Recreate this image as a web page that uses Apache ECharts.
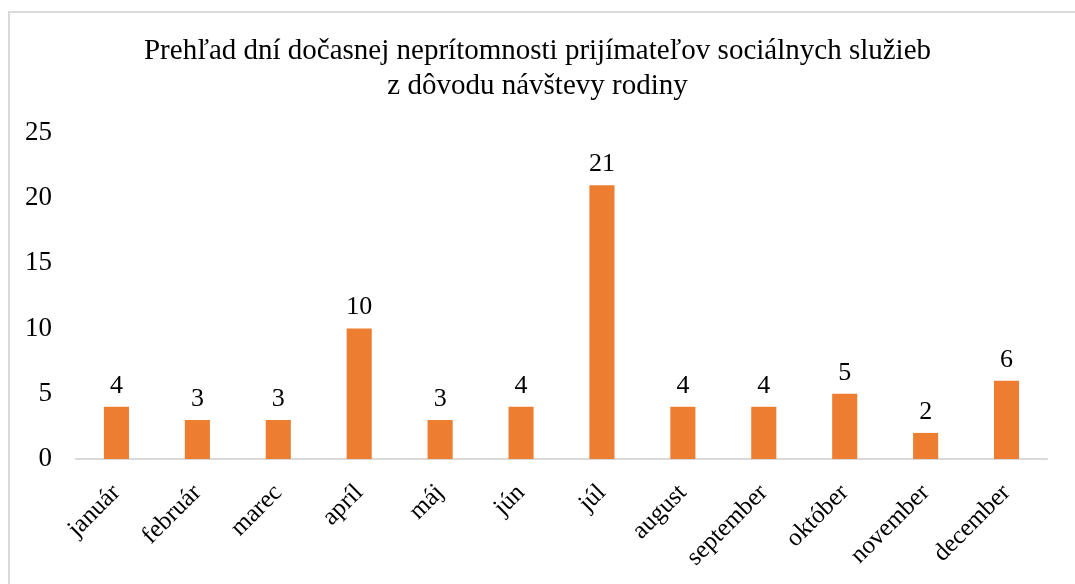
<!DOCTYPE html>
<html>
<head>
<meta charset="utf-8">
<script src="https://cdn.jsdelivr.net/npm/echarts@6/dist/echarts.min.js"></script>
<style>
  html, body { margin: 0; padding: 0; overflow: hidden; background: #fff; }
  #frame { position: absolute; left: 8px; top: 11px; width: 2000px; height: 2000px; border: 2px solid #d9d9d9; }
  #chart { position: absolute; left: 0; top: 0; width: 1075px; height: 584px; }
</style>
</head>
<body>
<div id="frame"></div>
<div id="chart"></div>
<script>
// mesiace
const months = ['január', 'február', 'marec', 'apríl', 'máj', 'jún', 'júl', 'august', 'september', 'október', 'november', 'december']
// počet dní
const days = [4, 3, 3, 10, 3, 4, 21, 4, 4, 5, 2, 6]
const yTicks = [0, 25, 5] // min, max, interval

const font = '"Liberation Serif", "Times New Roman", serif'

const chart = echarts.init(document.getElementById('chart'))
chart.setOption({
  animation: false,
  title: {
    text: 'Prehľad dní dočasnej neprítomnosti prijímateľov sociálnych služieb\nz dôvodu návštevy rodiny',
    left: 'center',
    top: 29,
    textStyle: {
      fontFamily: font,
      fontSize: 29,
      fontWeight: 'normal',
      color: '#000',
      lineHeight: 35,
    },
  },
  grid: { left: 76, right: 28, top: 133, bottom: 125 },
  xAxis: {
    type: 'category',
    data: months,
    axisLine: { lineStyle: { color: '#d9d9d9', width: 2 } },
    axisTick: { show: false },
    axisLabel: {
      rotate: 45,
      interval: 0,
      margin: 30,
      fontFamily: font,
      fontSize: 25,
      color: '#000',
    },
  },
  yAxis: {
    type: 'value',
    min: yTicks[0],
    max: yTicks[1],
    interval: yTicks[2],
    splitLine: { show: false },
    axisLine: { show: false },
    axisLabel: {
      margin: 24,
      fontFamily: font,
      fontSize: 27,
      color: '#000',
    },
  },
  series: [
    {
      type: 'bar',
      data: days,
      barWidth: '31%',
      itemStyle: { color: '#ED7D31' },
      label: {
        show: true,
        position: 'top',
        distance: 8,
        fontFamily: font,
        fontSize: 26,
        color: '#000',
      },
    },
  ],
})
</script>
</body>
</html>
